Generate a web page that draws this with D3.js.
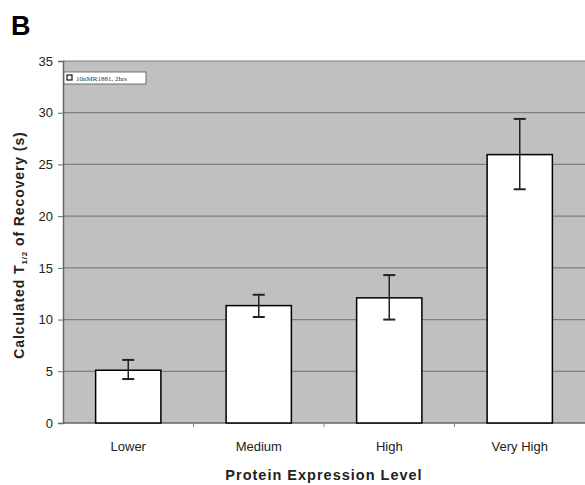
<!DOCTYPE html>
<html>
<head>
<meta charset="utf-8">
<script src="https://cdn.jsdelivr.net/npm/d3@7"></script>
<style>
  body { margin: 0; background: #fff; }
  text { font-family: "Liberation Sans", Arial, sans-serif; }
</style>
</head>
<body>
<svg id="chart" width="585" height="485"></svg>
<script>
// chart data
const categories = ['Lower', 'Medium', 'High', 'Very High'];
const means = [5.1, 11.35, 12.1, 25.95];
const errLow = [4.25, 10.25, 10.0, 22.6];
const errHigh = [6.1, 12.4, 14.3, 29.4];
const yTicks = [0, 5, 10, 15, 20, 25, 30, 35];
const legendLabel = '10nMR1881, 2hrs';

// layout
const plotLeft = 63;
const plotRight = 585;
const plotTop = 61;
const plotBottom = 423;

const PLOT_BG = '#c0c0c0';
const GRID = '#7f7f7f';
const BLACK = '#000000';

const svg = d3.select('#chart');

const x = d3.scaleBand()
    .domain(categories)
    .range([plotLeft, plotRight])
    .paddingInner(0.5)
    .paddingOuter(0.25);

const y = d3.scaleLinear()
    .domain([0, 35])
    .range([plotBottom, plotTop]);

// plot background
svg.append('rect')
    .attr('x', plotLeft)
    .attr('y', plotTop)
    .attr('width', plotRight - plotLeft)
    .attr('height', plotBottom - plotTop)
    .attr('fill', PLOT_BG);

// gridlines
svg.selectAll('.grid')
    .data(yTicks.filter(d => d > 0))
    .join('line')
    .attr('x1', plotLeft)
    .attr('x2', plotRight)
    .attr('y1', d => y(d))
    .attr('y2', d => y(d))
    .attr('stroke', GRID)
    .attr('stroke-width', 1.2);

// y axis
const yAxis = svg.append('g')
    .attr('transform', `translate(${plotLeft},0)`)
    .call(d3.axisLeft(y).tickValues(yTicks).tickSize(5).tickPadding(5));
yAxis.select('.domain').attr('stroke', '#666').attr('stroke-width', 1.5);
yAxis.selectAll('.tick line').attr('stroke', '#666');
yAxis.selectAll('text').attr('font-size', 13).attr('fill', '#222')
    .style('font-family', '"Liberation Sans", Arial, sans-serif');

// x axis: base line and separator ticks
svg.append('line')
    .attr('x1', plotLeft)
    .attr('x2', plotRight)
    .attr('y1', plotBottom)
    .attr('y2', plotBottom)
    .attr('stroke', '#666')
    .attr('stroke-width', 1.5);

const step = x.step();
svg.selectAll('.xsep')
    .data(categories.slice(1))
    .join('line')
    .attr('x1', d => x(d) - x.paddingInner() * step / 2)
    .attr('x2', d => x(d) - x.paddingInner() * step / 2)
    .attr('y1', plotBottom)
    .attr('y2', plotBottom + 4)
    .attr('stroke', '#888');

svg.selectAll('.xlabel')
    .data(categories)
    .join('text')
    .attr('x', d => x(d) + x.bandwidth() / 2)
    .attr('y', 451)
    .attr('text-anchor', 'middle')
    .attr('font-size', 13)
    .attr('fill', '#222')
    .text(d => d);

// bars
svg.selectAll('.bar')
    .data(categories)
    .join('rect')
    .attr('x', d => x(d))
    .attr('y', (d, i) => y(means[i]))
    .attr('width', x.bandwidth())
    .attr('height', (d, i) => y(0) - y(means[i]))
    .attr('fill', '#ffffff')
    .attr('stroke', BLACK)
    .attr('stroke-width', 1.5);

// error bars
const err = svg.selectAll('.err')
    .data(categories)
    .join('g');

err.append('line')
    .attr('x1', d => x(d) + x.bandwidth() / 2)
    .attr('x2', d => x(d) + x.bandwidth() / 2)
    .attr('y1', (d, i) => y(errLow[i]))
    .attr('y2', (d, i) => y(errHigh[i]))
    .attr('stroke', '#222')
    .attr('stroke-width', 1.5);

[errLow, errHigh].forEach(arr => {
    err.append('line')
        .attr('x1', d => x(d) + x.bandwidth() / 2 - 6)
        .attr('x2', d => x(d) + x.bandwidth() / 2 + 6)
        .attr('y1', (d, i) => y(arr[i]))
        .attr('y2', (d, i) => y(arr[i]))
        .attr('stroke', '#222')
        .attr('stroke-width', 2);
});

// legend
const legend = svg.append('g').attr('transform', 'translate(64,72)');
legend.append('rect')
    .attr('width', 82)
    .attr('height', 12)
    .attr('fill', '#fff')
    .attr('stroke', '#555')
    .attr('stroke-width', 0.8);
legend.append('rect')
    .attr('x', 3)
    .attr('y', 3)
    .attr('width', 5)
    .attr('height', 5)
    .attr('fill', '#fff')
    .attr('stroke', '#111')
    .attr('stroke-width', 1.2);
legend.append('text')
    .attr('x', 12)
    .attr('y', 9)
    .attr('font-size', 7)
    .style('font-family', '"Liberation Serif", "DejaVu Serif", serif')
    .attr('fill', '#333')
    .text(legendLabel);

// axis titles
const yTitle = svg.append('text')
    .attr('transform', 'translate(24,245) rotate(-90)')
    .attr('text-anchor', 'middle')
    .attr('font-size', 14)
    .attr('font-weight', 'bold')
    .attr('letter-spacing', 0.9)
    .attr('fill', '#222');
yTitle.append('tspan').text('Calculated T');
yTitle.append('tspan').text('1/2').attr('font-size', 8).attr('dy', 3);
yTitle.append('tspan').text(' of Recovery (s)').attr('dy', -3);

svg.append('text')
    .attr('x', 324)
    .attr('y', 480)
    .attr('text-anchor', 'middle')
    .attr('font-size', 14.5)
    .attr('font-weight', 'bold')
    .attr('letter-spacing', 1)
    .attr('fill', '#222')
    .text('Protein Expression Level');

// panel letter
svg.append('text')
    .attr('x', 11)
    .attr('y', 35)
    .attr('font-size', 27)
    .attr('font-weight', 'bold')
    .attr('fill', '#000')
    .text('B');
</script>
</body>
</html>
